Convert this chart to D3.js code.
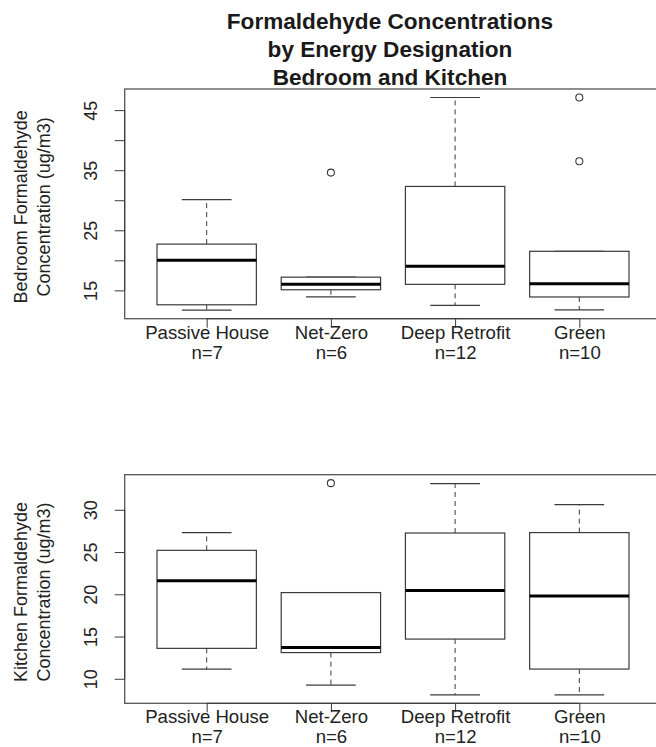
<!DOCTYPE html>
<html>
<head>
<meta charset="utf-8">
<script src="https://cdn.jsdelivr.net/npm/d3@7"></script>
<style>
  body { margin: 0; background: #fff; }
  svg { font-family: "Liberation Sans", Arial, Helvetica, sans-serif; }
</style>
</head>
<body>
<svg id="chart"></svg>
<script>
// Categories and sample sizes
var categories = ["Passive House", "Net-Zero", "Deep Retrofit", "Green"];
var counts = [7, 6, 12, 10];

// Box stats per category: [lower whisker, Q1, median, Q3, upper whisker]
var bedroomStats = [
  [11.7, 12.6, 20.0, 22.7, 30.1],
  [13.9, 15.1, 16.0, 17.2, 17.2],
  [12.5, 16.0, 19.0, 32.3, 47.1],
  [11.75, 13.9, 16.1, 21.5, 21.5]
];
var bedroomOutliers = [[], [34.6], [], [47.1, 36.5]];

var kitchenStats = [
  [11.15, 13.6, 21.6, 25.2, 27.3],
  [9.25, 13.1, 13.7, 20.2, 20.2],
  [8.1, 14.7, 20.45, 27.25, 33.1],
  [8.1, 11.15, 19.8, 27.3, 30.6]
];
var kitchenOutliers = [[], [33.15], [], []];

// Tick values (R drops some labels when they would overlap)
var bedroomTicks = [15, 20, 25, 30, 35, 40, 45];
var bedroomTickLabels = [15, 25, 35, 45];
var kitchenTicks = [10, 15, 20, 25, 30];
var kitchenTickLabels = [10, 15, 20, 25, 30];

var titleLines = ["Formaldehyde Concentrations", "by Energy Designation", "Bedroom and Kitchen"];

// Page size & plot region
var width = 656,
    height = 747,
    left = 124.7,
    right = 661.3;

var lineColour = "#3a3a3a";

var svg = d3.select("#chart")
  .attr("width", width)
  .attr("height", height);

// x scale like R's boxplot: positions 1..n, range padded by 4%
var n = categories.length;
var x = d3.scaleLinear()
  .domain([0.5 - 0.04 * n, n + 0.5 + 0.04 * n])
  .range([left, right]);
var boxW = x(1.8) - x(1);   // 0.8 units wide

// Title
svg.append("g")
  .selectAll("text")
  .data(titleLines)
  .enter().append("text")
  .attr("x", 390)
  .attr("y", function(d, i) { return 29 + i * 27.8; })
  .attr("text-anchor", "middle")
  .attr("font-size", "22.6px")
  .attr("font-weight", "bold")
  .attr("fill", "#1a1a1a")
  .text(function(d) { return d; });

drawPanel(bedroomStats, bedroomOutliers, bedroomTicks, bedroomTickLabels,
          89, 318.7, ["Bedroom Formaldehyde", "Concentration (ug/m3)"]);
drawPanel(kitchenStats, kitchenOutliers, kitchenTicks, kitchenTickLabels,
          474.7, 703.3, ["Kitchen Formaldehyde", "Concentration (ug/m3)"]);

function drawPanel(stats, outliers, ticks, tickLabels, top, bottom, yTitle) {
  var all = d3.merge(stats.concat(outliers));
  var lo = d3.min(all), hi = d3.max(all), pad = 0.04 * (hi - lo);
  var y = d3.scaleLinear()
    .domain([lo - pad, hi + pad])
    .range([bottom, top]);

  var g = svg.append("g");

  // Plot frame
  g.append("rect")
    .attr("x", left)
    .attr("y", top)
    .attr("width", right - left)
    .attr("height", bottom - top)
    .attr("fill", "none")
    .attr("stroke", "#555")
    .attr("stroke-width", 1.3);

  // Y axis
  var yAxis = g.append("g")
    .attr("transform", "translate(" + left + ",0)")
    .call(d3.axisLeft(y)
      .tickValues(ticks)
      .tickSize(10)
      .tickSizeOuter(0)
      .tickFormat(function(d) { return tickLabels.indexOf(d) >= 0 ? d : ""; }));
  yAxis.select(".domain")
    .attr("d", "M0," + y(ticks[0]) + "V" + y(ticks[ticks.length - 1]))
    .attr("stroke", lineColour);
  yAxis.selectAll(".tick line").attr("stroke", lineColour);
  yAxis.selectAll(".tick text")
    .attr("x", null)
    .attr("dy", "0.35em")
    .attr("transform", "translate(-34,0) rotate(-90)")
    .attr("text-anchor", "middle")
    .attr("font-size", "18px")
    .attr("font-family", null)
    .attr("fill", "#222");

  // Y axis title
  g.append("g")
    .selectAll("text")
    .data(yTitle)
    .enter().append("text")
    .attr("transform", function(d, i) {
      return "translate(" + (21 + i * 23) + "," + ((top + bottom) / 2 + 3) + ") rotate(-90)";
    })
    .attr("dy", "0.35em")
    .attr("text-anchor", "middle")
    .attr("font-size", "18px")
    .attr("fill", "#222")
    .text(function(d) { return d; });

  // X axis
  var xAxis = g.append("g")
    .attr("transform", "translate(0," + bottom + ")")
    .call(d3.axisBottom(x)
      .tickValues(d3.range(1, n + 1))
      .tickSize(9)
      .tickSizeOuter(0)
      .tickFormat(""));
  xAxis.select(".domain")
    .attr("d", "M" + x(1) + ",0H" + x(n))
    .attr("stroke", lineColour);
  xAxis.selectAll(".tick line").attr("stroke", lineColour);
  var lab = xAxis.selectAll(".tick text")
    .text(null)
    .attr("y", null)
    .attr("dy", null)
    .attr("font-size", "18.6px")
    .attr("font-family", null)
    .attr("fill", "#222");
  lab.append("tspan")
    .attr("x", 0)
    .attr("y", 20)
    .text(function(d) { return categories[d - 1]; });
  lab.append("tspan")
    .attr("x", 0)
    .attr("y", 40)
    .text(function(d) { return "n=" + counts[d - 1]; });

  // Boxes
  var box = g.selectAll(".box")
    .data(stats)
    .enter().append("g")
    .attr("class", "box");

  // Whiskers (dashed)
  box.append("line")
    .attr("x1", function(d, i) { return x(i + 1); })
    .attr("x2", function(d, i) { return x(i + 1); })
    .attr("y1", function(d) { return y(d[3]); })
    .attr("y2", function(d) { return y(d[4]); })
    .attr("stroke", lineColour)
    .attr("stroke-dasharray", "5,4");
  box.append("line")
    .attr("x1", function(d, i) { return x(i + 1); })
    .attr("x2", function(d, i) { return x(i + 1); })
    .attr("y1", function(d) { return y(d[1]); })
    .attr("y2", function(d) { return y(d[0]); })
    .attr("stroke", lineColour)
    .attr("stroke-dasharray", "5,4");

  // Staples
  [0, 4].forEach(function(k) {
    box.append("line")
      .attr("x1", function(d, i) { return x(i + 1) - boxW / 4; })
      .attr("x2", function(d, i) { return x(i + 1) + boxW / 4; })
      .attr("y1", function(d) { return y(d[k]); })
      .attr("y2", function(d) { return y(d[k]); })
      .attr("stroke", lineColour)
      .attr("stroke-width", 1.2);
  });

  // Box body
  box.append("rect")
    .attr("x", function(d, i) { return x(i + 1) - boxW / 2; })
    .attr("y", function(d) { return y(d[3]); })
    .attr("width", boxW)
    .attr("height", function(d) { return y(d[1]) - y(d[3]); })
    .attr("fill", "#fff")
    .attr("stroke", lineColour)
    .attr("stroke-width", 1.2);

  // Median
  box.append("line")
    .attr("x1", function(d, i) { return x(i + 1) - boxW / 2; })
    .attr("x2", function(d, i) { return x(i + 1) + boxW / 2; })
    .attr("y1", function(d) { return y(d[2]); })
    .attr("y2", function(d) { return y(d[2]); })
    .attr("stroke", "#000")
    .attr("stroke-width", 3);

  // Outliers
  outliers.forEach(function(pts, i) {
    g.selectAll(null)
      .data(pts)
      .enter().append("circle")
      .attr("cx", x(i + 1))
      .attr("cy", function(d) { return y(d); })
      .attr("r", 3.5)
      .attr("fill", "none")
      .attr("stroke", lineColour)
      .attr("stroke-width", 1.1);
  });
}
</script>
</body>
</html>
